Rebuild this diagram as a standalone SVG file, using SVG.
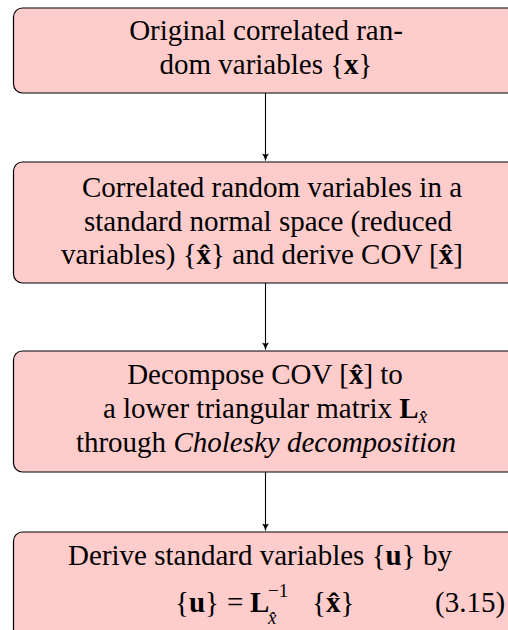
<svg xmlns="http://www.w3.org/2000/svg" width="508" height="630" viewBox="0 0 508 630" style="font-family:'Liberation Serif',serif">
<style>
.box{fill:#ffcccc;stroke:#000;stroke-width:1.2}
.conn{stroke:#000;stroke-width:1.1;fill:none}
.head{fill:#000}
</style>
<rect width="508" height="630" fill="#fff"/>
<g id="connectors">
<line class="conn" x1="265.5" y1="93" x2="265.5" y2="158"/>
<path class="head" d="M262,153.5 Q264.5,156.5 265.5,161.5 Q266.5,156.5 269,153.5 Q265.5,155.5 262,153.5Z"/>
<line class="conn" x1="265.5" y1="283" x2="265.5" y2="347"/>
<path class="head" d="M262,342.5 Q264.5,345.5 265.5,350.5 Q266.5,345.5 269,342.5 Q265.5,344.5 262,342.5Z"/>
<line class="conn" x1="265.5" y1="472" x2="265.5" y2="528"/>
<path class="head" d="M262,523.5 Q264.5,526.5 265.5,531.5 Q266.5,526.5 269,523.5 Q265.5,525.5 262,523.5Z"/>
</g>
<g id="node1">
<rect class="box" x="13.5" y="8" width="504" height="85" rx="9"/>
<text style="font-family:'Liberation Serif',serif;font-size:29px" text-anchor="middle" x="266" y="40">Original correlated ran-</text>
<text style="font-family:'Liberation Serif',serif;font-size:29px" text-anchor="middle" x="266" y="74">dom variables {<tspan style="font-weight:bold">x</tspan>}</text>
</g>
<g id="node2">
<rect class="box" x="13.5" y="162" width="504" height="121" rx="9"/>
<text style="font-family:'Liberation Serif',serif;font-size:29px" text-anchor="middle" x="272" y="197">Correlated random variables in a</text>
<text style="font-family:'Liberation Serif',serif;font-size:29px" text-anchor="middle" x="268" y="230.5">standard normal space (reduced</text>
<text style="font-family:'Liberation Serif',serif;font-size:29px" text-anchor="middle" x="262" y="264">variables) {<tspan style="font-weight:bold">x̂</tspan>} and derive COV [<tspan style="font-weight:bold">x̂</tspan>]</text>
</g>
<g id="node3">
<rect class="box" x="13.5" y="351" width="504" height="121" rx="9"/>
<text style="font-family:'Liberation Serif',serif;font-size:29px" text-anchor="middle" x="265" y="384">Decompose COV [<tspan style="font-weight:bold">x̂</tspan>] to</text>
<text style="font-family:'Liberation Serif',serif;font-size:29px" text-anchor="middle" x="265" y="418">a lower triangular matrix <tspan style="font-weight:bold">L</tspan><tspan style="font-size:19px;font-style:italic" dy="5">x̂</tspan></text>
<text style="font-family:'Liberation Serif',serif;font-size:29px" text-anchor="middle" x="266" y="452">through <tspan style="font-style:italic">Cholesky decomposition</tspan></text>
</g>
<g id="node4">
<rect class="box" x="13.5" y="532" width="504" height="112" rx="9"/>
<text style="font-family:'Liberation Serif',serif;font-size:29px" text-anchor="middle" x="260" y="565">Derive standard variables {<tspan style="font-weight:bold">u</tspan>} by</text>
<text style="font-family:'Liberation Serif',serif;font-size:29px" x="175" y="612">{<tspan style="font-weight:bold">u</tspan>}</text>
<text style="font-family:'Liberation Serif',serif;font-size:29px" x="227" y="612">=</text>
<text style="font-family:'Liberation Serif',serif;font-size:29px;font-weight:bold" x="250" y="612">L</text>
<text style="font-family:'Liberation Serif',serif;font-size:19px" x="268" y="597">−1</text>
<text style="font-family:'Liberation Serif',serif;font-size:19px;font-style:italic" x="268" y="624">x̂</text>
<text style="font-family:'Liberation Serif',serif;font-size:29px" x="312" y="612">{<tspan style="font-weight:bold">x̂</tspan>}</text>
<text style="font-family:'Liberation Serif',serif;font-size:29px" x="435" y="612">(3.15)</text>
</g>
</svg>
